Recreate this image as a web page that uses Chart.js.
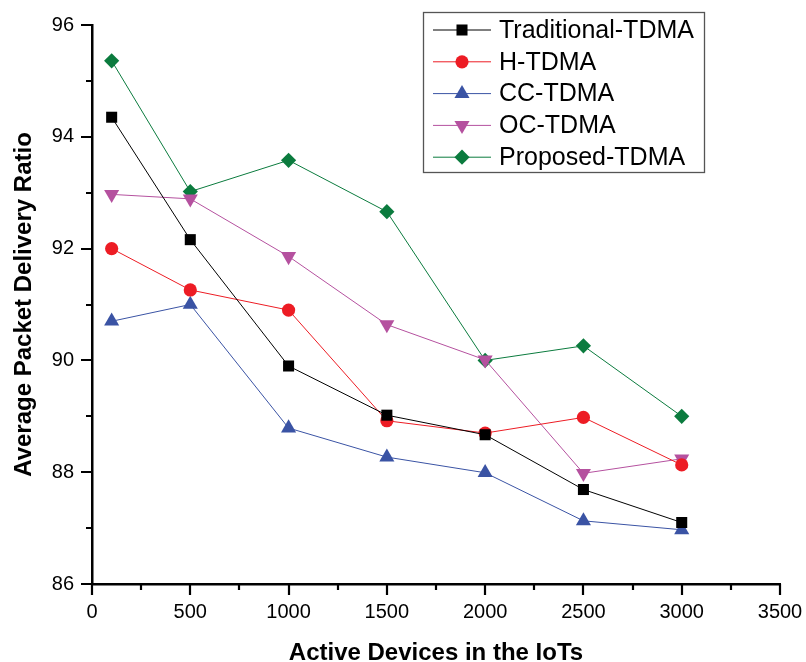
<!DOCTYPE html>
<html><head><meta charset="utf-8">
<script src="https://cdn.jsdelivr.net/npm/chart.js@4/dist/chart.umd.min.js"></script>
<style>html,body{margin:0;padding:0;background:#fff}#wrap{width:806px;height:662px}</style>
</head><body><div id="wrap"><canvas id="c" width="806" height="662"></canvas></div>
<script>
const devices = [100, 500, 1000, 1500, 2000, 2500, 3000];
const traditionalTDMA = [94.35, 92.16, 89.90, 89.02, 88.67, 87.69, 87.10];
const hTDMA = [92.00, 91.26, 90.90, 88.92, 88.70, 88.98, 88.13];
const ccTDMA = [90.70, 91.00, 88.79, 88.27, 87.99, 87.13, 86.97];
const ocTDMA = [92.97, 92.89, 91.86, 90.64, 90.01, 87.98, 88.24];
const proposedTDMA = [95.36, 93.02, 93.58, 92.66, 90.00, 90.26, 89.00];
const seriesNames = ['Traditional-TDMA', 'H-TDMA', 'CC-TDMA', 'OC-TDMA', 'Proposed-TDMA'];
const xTickValues = [0, 500, 1000, 1500, 2000, 2500, 3000, 3500];
const yTickValues = [86, 88, 90, 92, 94, 96];
const xTitle = 'Active Devices in the IoTs';
const yTitle = 'Average Packet Delivery Ratio';

const seriesValues = [traditionalTDMA, hTDMA, ccTDMA, ocTDMA, proposedTDMA];
const colors = ['#000000', '#ED1C24', '#3A53A4', '#B5519F', '#0B7B3E'];
const styles = [
  {pointStyle: 'rect', radius: 7.8, rotation: 0},
  {pointStyle: 'circle', radius: 6.6, rotation: 0},
  {pointStyle: 'triangle', radius: 8.7, rotation: 0},
  {pointStyle: 'triangle', radius: 8.7, rotation: 180},
  {pointStyle: 'rectRot', radius: 7.6, rotation: 0}
];

const datasets = seriesNames.map((name, i) => ({
  label: name,
  data: devices.map((d, j) => ({x: d, y: seriesValues[i][j]})),
  borderColor: colors[i],
  backgroundColor: colors[i],
  pointBackgroundColor: colors[i],
  pointBorderColor: colors[i],
  pointBorderWidth: 0,
  borderWidth: 1,
  pointStyle: styles[i].pointStyle,
  pointRadius: styles[i].radius,
  pointRotation: styles[i].rotation,
  tension: 0,
  clip: false
}));

function drawMarker(ctx, st, x, y, color) {
  ctx.save();
  ctx.fillStyle = color;
  ctx.strokeStyle = color;
  if (Chart.helpers && Chart.helpers.drawPoint) {
    Chart.helpers.drawPoint(ctx, {pointStyle: st.pointStyle, radius: st.radius, rotation: st.rotation, borderWidth: 0}, x, y);
  } else {
    ctx.beginPath();
    ctx.arc(x, y, st.radius, 0, Math.PI * 2);
    ctx.fill();
  }
  ctx.restore();
}

const axisPlugin = {
  id: 'axisTicks',
  afterDraw(chart) {
    const ctx = chart.ctx;
    const xs = chart.scales.x, ys = chart.scales.y;
    const area = chart.chartArea;
    ctx.save();
    ctx.strokeStyle = '#000';
    ctx.lineWidth = 2.2;
    ctx.beginPath();
    for (let v = 0; v <= 3500; v += 250) {
      const px = Math.round(xs.getPixelForValue(v));
      const len = (v % 500 === 0) ? 11 : 6;
      ctx.moveTo(px, area.bottom);
      ctx.lineTo(px, area.bottom + len);
    }
    for (let v = 86; v <= 96; v += 1) {
      const py = Math.round(ys.getPixelForValue(v));
      const len = (v % 2 === 0) ? 11 : 6;
      ctx.moveTo(area.left, py);
      ctx.lineTo(area.left - len, py);
    }
    ctx.stroke();
    ctx.restore();
  }
};

const legendPlugin = {
  id: 'boxLegend',
  afterDraw(chart) {
    const ctx = chart.ctx;
    ctx.save();
    ctx.strokeStyle = '#555';
    ctx.lineWidth = 1.3;
    ctx.strokeRect(423.5, 12.5, 281, 160);
    chart.data.datasets.forEach((ds, i) => {
      const y = 30 + i * 31.8;
      ctx.strokeStyle = ds.borderColor;
      ctx.lineWidth = 1;
      ctx.beginPath();
      ctx.moveTo(433, y);
      ctx.lineTo(491, y);
      ctx.stroke();
      drawMarker(ctx, styles[i], 462, y, ds.backgroundColor);
      ctx.fillStyle = '#000';
      ctx.font = '25px "Liberation Sans", Arial, sans-serif';
      ctx.textBaseline = 'middle';
      ctx.textAlign = 'left';
      ctx.fillText(ds.label, 499, y + 1);
    });
    ctx.restore();
  }
};

const tickFont = {family: '"Liberation Sans", Arial, sans-serif', size: 20};
const titleFont = {family: '"Liberation Sans", Arial, sans-serif', size: 24, weight: 'bold'};

new Chart(document.getElementById('c'), {
  type: 'line',
  data: {datasets},
  options: {
    responsive: false,
    animation: false,
    layout: {padding: {top: 25, right: 26, left: 0, bottom: 0}},
    plugins: {legend: {display: false}, tooltip: {enabled: false}},
    scales: {
      x: {
        type: 'linear', min: 0, max: 3500,
        afterFit(s) { s.height = 78; s.paddingRight = 0; s.paddingLeft = 0; },
        afterBuildTicks(s) { s.ticks = xTickValues.map(v => ({value: v})); },
        ticks: {font: tickFont, color: '#000', padding: 16, maxRotation: 0, autoSkip: false, callback: v => String(v)},
        grid: {display: false, drawTicks: false, tickLength: 0},
        border: {display: true, color: '#000', width: 2.5},
        title: {display: true, text: xTitle, font: titleFont, color: '#000', padding: {top: 0, bottom: -5.5}}
      },
      y: {
        type: 'linear', min: 86, max: 96,
        afterFit(s) { s.width = 92; s.paddingTop = 0; s.paddingBottom = 0; },
        afterBuildTicks(s) { s.ticks = yTickValues.map(v => ({value: v})); },
        ticks: {font: tickFont, color: '#000', padding: 18, autoSkip: false, callback: v => String(v)},
        grid: {display: false, drawTicks: false, tickLength: 0},
        border: {display: true, color: '#000', width: 2.5},
        title: {display: true, text: yTitle, font: titleFont, color: '#000', padding: {top: 9.5, bottom: 0}}
      }
    }
  },
  plugins: [axisPlugin, legendPlugin]
});
</script>
</body></html>
